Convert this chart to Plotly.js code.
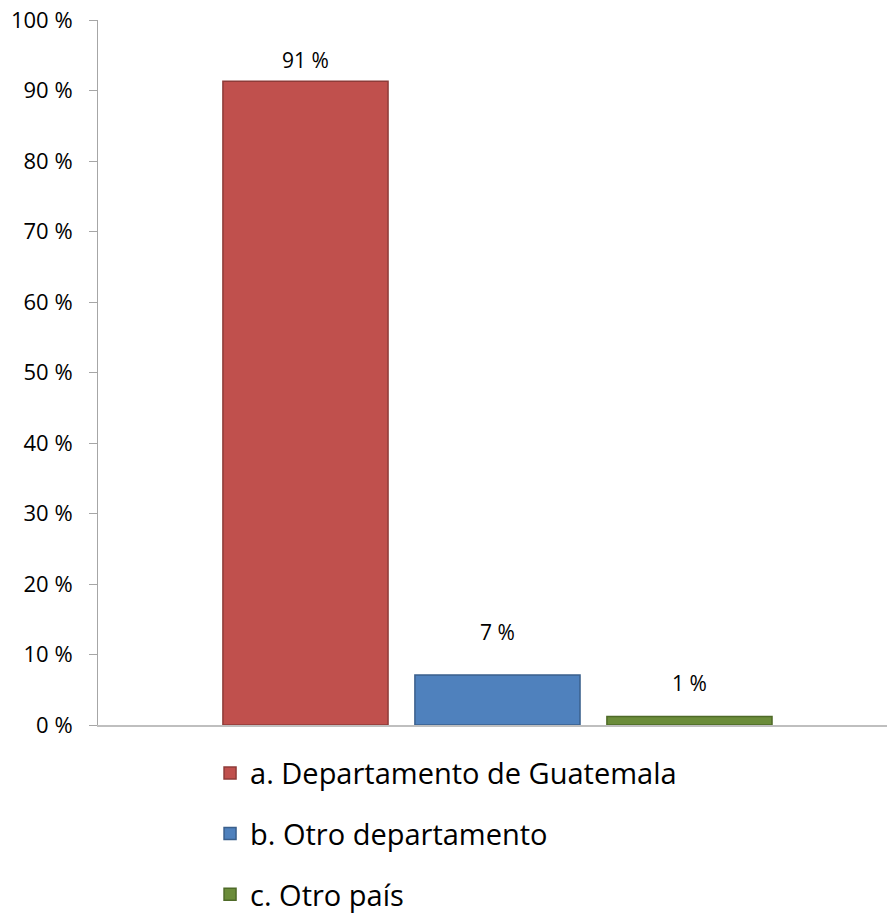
<!DOCTYPE html>
<html>
<head>
<meta charset="utf-8">
<script src="https://cdn.plot.ly/plotly-3.0.1.min.js"></script>
<style>html,body{margin:0;padding:0;background:#fff}#chart{width:887px;height:915px}</style>
</head>
<body>
<div id="chart"></div>
<script>
const categories = ["Origen"];
const seriesNames = ["a. Departamento de Guatemala", "b. Otro departamento", "c. Otro país"];
const seriesValues = [91.3, 7.1, 1.2];
const valueLabels = ["91 %", "7 %", "1 %"];
const fillColors = ["#C0504D", "#4F81BD", "#6B8C3A"];
const lineColors = ["#8E3B38", "#3A5F8C", "#4E6A28"];
const labelShifts = [21, 43, 34];
const yTickVals = [0,10,20,30,40,50,60,70,80,90,100];
const yTickText = yTickVals.map(v => v + " %");

const font = "'Open Sans', Lato, sans-serif";

const traces = seriesNames.map((name, i) => ({
  type: "bar",
  name: name,
  x: categories,
  y: [seriesValues[i]],
  legendgroup: "g" + i,
  marker: {color: fillColors[i], line: {color: lineColors[i], width: 1.5}},
  hoverinfo: "skip"
}));

const annotations = seriesNames.map((name, i) => ({
  x: categories[0],
  y: seriesValues[i],
  xref: "x",
  yref: "y",
  text: valueLabels[i],
  showarrow: false,
  yanchor: "middle",
  yshift: labelShifts[i],
  xshift: (i - 1) * 192,
  font: {family: font, size: 21, color: "#000"}
}));

const layout = {
  width: 887,
  height: 915,
  margin: {l: 98, r: 0, t: 20, b: 190, autoexpand: false},
  paper_bgcolor: "#fff",
  plot_bgcolor: "#fff",
  barmode: "group",
  bargap: 0.27,
  bargroupgap: 0.14,
  showlegend: true,
  legend: {
    orientation: "v",
    x: 0.142, xanchor: "left",
    y: -0.032, yanchor: "top",
    font: {family: font, size: 29, color: "#000"},
    tracegroupgap: 20,
    traceorder: "grouped",
    borderwidth: 0,
    itemclick: false
  },
  xaxis: {
    showticklabels: false,
    ticks: "",
    showgrid: false,
    zeroline: false,
    showline: true,
    linecolor: "#BFBFBF",
    linewidth: 2,
    range: [-0.5063, 0.4937],
    fixedrange: true
  },
  yaxis: {
    range: [0, 100],
    tickvals: yTickVals,
    ticktext: yTickText,
    ticks: "outside",
    ticklen: 8,
    tickcolor: "#A6A6A6",
    showgrid: false,
    zeroline: false,
    showline: true,
    linecolor: "#A6A6A6",
    linewidth: 1,
    tickfont: {family: font, size: 22, color: "#000"},
    ticklabelstandoff: 12,
    fixedrange: true
  },
  annotations: annotations
};

Plotly.newPlot("chart", traces, layout, {displayModeBar: false, staticPlot: true});
</script>
</body>
</html>
